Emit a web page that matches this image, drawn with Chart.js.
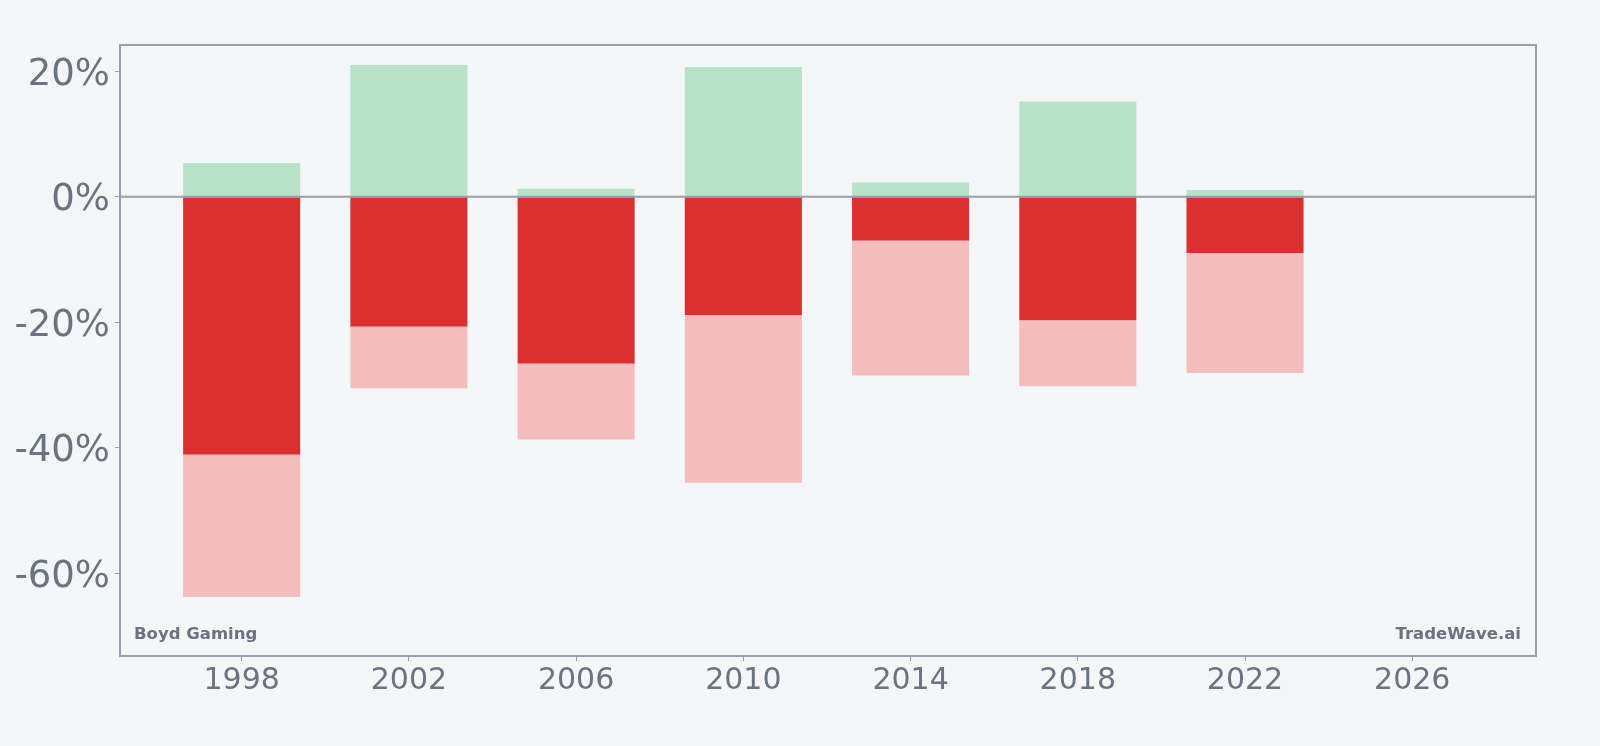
<!DOCTYPE html>
<html><head><meta charset="utf-8">
<script src="https://cdn.jsdelivr.net/npm/chart.js@4/dist/chart.umd.min.js"></script>
<style>html,body{margin:0;padding:0;background:#f4f6f8;}#wrap{width:1600px;height:746px;}</style>
</head><body><div id="wrap"><canvas id="c" width="1600" height="746"></canvas></div>
<script>
const years = [1998, 2002, 2006, 2010, 2014, 2018, 2022];
const gains = [5.4, 21.0, 1.3, 20.7, 2.3, 15.2, 1.1];
const drawdowns = [-41.1, -20.7, -26.6, -18.9, -7.0, -19.7, -9.0];
const totals = [-63.8, -30.5, -38.7, -45.6, -28.5, -30.2, -28.1];
const xTicks = [1998, 2002, 2006, 2010, 2014, 2018, 2022, 2026];
const yTicks = [-60, -40, -20, 0, 20];
const company = 'Boyd Gaming';
const brand = 'TradeWave.ai';

const textColor = '#6b7280';
const frameColor = '#9a9dab';

const frame = {
  id: 'frame',
  afterDatasetsDraw(chart) {
    const {ctx, chartArea: a, scales: {y}} = chart;
    ctx.save();
    const y0 = y.getPixelForValue(0);
    ctx.strokeStyle = frameColor; ctx.lineWidth = 2;
    ctx.beginPath(); ctx.moveTo(a.left, y0); ctx.lineTo(a.right, y0); ctx.stroke();
    ctx.strokeRect(a.left, a.top, a.right - a.left, a.bottom - a.top);
    ctx.fillStyle = textColor;
    ctx.font = 'bold 16.5px "DejaVu Sans"';
    ctx.textBaseline = 'alphabetic';
    ctx.textAlign = 'left';
    ctx.fillText(company, a.left + 14, a.bottom - 17);
    ctx.textAlign = 'right';
    ctx.fillText(brand, a.right - 15, a.bottom - 17);
    ctx.restore();
  }
};

new Chart(document.getElementById('c'), {
  type: 'bar',
  data: {
    datasets: [
      { data: years.map((x, i) => ({x, y: gains[i]})), backgroundColor: '#b8e3c8', borderWidth: 0 },
      { data: years.map((x, i) => ({x, y: [drawdowns[i], totals[i]]})), backgroundColor: '#f4bdbd', borderWidth: 0 },
      { data: years.map((x, i) => ({x, y: drawdowns[i]})), backgroundColor: '#dc3030', borderWidth: 0 }
    ]
  },
  options: {
    responsive: false, animation: false,
    layout: { padding: { left: 0, right: 64, top: 45, bottom: 0 } },
    plugins: { legend: { display: false }, tooltip: { enabled: false } },
    datasets: { bar: { grouped: false, barPercentage: 0.7, categoryPercentage: 1.0 } },
    scales: {
      x: {
        type: 'linear', min: 1995.09, max: 2028.96, offset: false,
        afterBuildTicks(s) { s.ticks = xTicks.map(v => ({value: v})); },
        afterFit(s) { s.height = 90; },
        grid: { offset: false, drawOnChartArea: false, drawTicks: true, tickLength: 5, color: frameColor, lineWidth: 1 },
        border: { display: false },
        ticks: { color: textColor, font: { family: 'DejaVu Sans', size: 30 }, padding: 2, maxRotation: 0, callback: v => String(v) }
      },
      y: {
        type: 'linear', min: -73.2, max: 24.2,
        afterBuildTicks(s) { s.ticks = yTicks.map(v => ({value: v})); },
        afterFit(s) { s.width = 120; },
        grid: { drawOnChartArea: false, drawTicks: true, tickLength: 5, color: frameColor, lineWidth: 1 },
        border: { display: false },
        ticks: { color: textColor, font: { family: 'DejaVu Sans', size: 37 }, padding: 5, labelOffset: 4, callback: v => v + '%' }
      }
    }
  },
  plugins: [frame]
});
</script>
</body></html>
